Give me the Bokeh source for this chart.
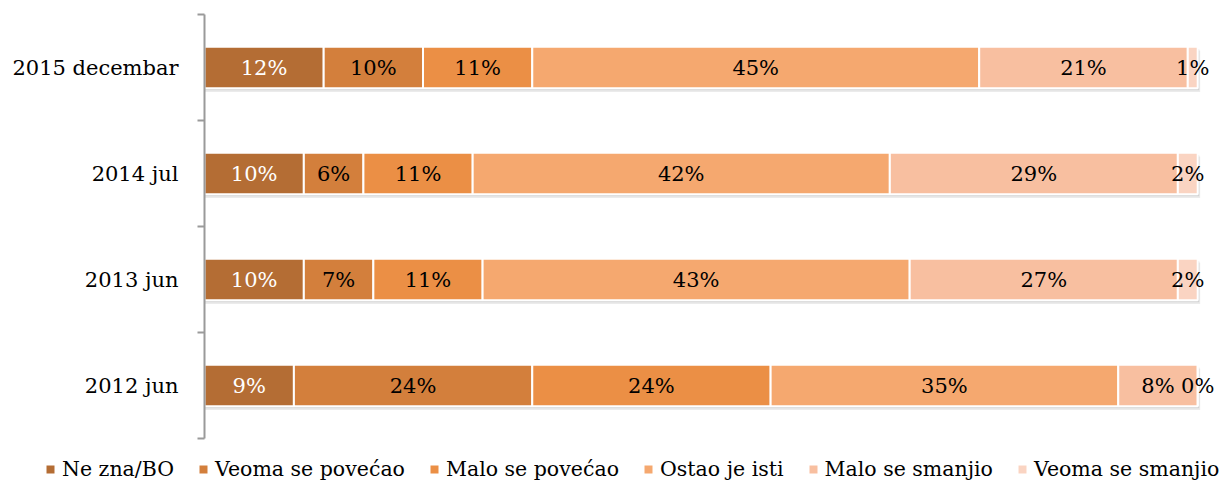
import pandas as pd
from bokeh.plotting import figure
from bokeh.layouts import column
from bokeh.models import ColumnDataSource, Range1d, FixedTicker, Legend, LegendItem
from bokeh.core.properties import value
from bokeh.transform import dodge
from bokeh.embed import file_html
from bokeh.resources import INLINE

categories = ["2012 jun", "2013 jun", "2014 jul", "2015 decembar"]
series = ["Ne zna/BO", "Veoma se povećao", "Malo se povećao",
          "Ostao je isti", "Malo se smanjio", "Veoma se smanjio"]
ne_zna = [9, 10, 10, 12]
veoma_povecao = [24, 7, 6, 10]
malo_povecao = [24, 11, 11, 11]
ostao_isti = [35, 43, 42, 45]
malo_smanjio = [8, 27, 29, 21]
veoma_smanjio = [0, 2, 2, 1]

colors = ["#B46D34", "#D37F3C", "#EB8F45", "#F5A86F", "#F8BFA0", "#FAD4C2"]
label_colors = ["white", "black", "black", "black", "black", "black"]
FONT = "DejaVu Serif"

cols = ["s0", "s1", "s2", "s3", "s4", "s5"]
values = [ne_zna, veoma_povecao, malo_povecao, ostao_isti, malo_smanjio, veoma_smanjio]

df = pd.DataFrame({c: v for c, v in zip(cols, values)})
df["cat"] = categories
df["ypos"] = [i + 0.5 for i in range(len(categories))]
df["total"] = df[cols].sum(axis=1)
source = ColumnDataSource(df)

# label table
rows = []
for i, cat in enumerate(categories):
    left = 0
    for j, c in enumerate(cols):
        v = values[j][i]
        rows.append(dict(x=left + v / 2, y=i + 0.5, text=f"{v}%", tcolor=label_colors[j]))
        left += v
lab = ColumnDataSource(pd.DataFrame(rows))

p = figure(width=1227, height=446, output_backend="svg", toolbar_location=None,
           x_range=Range1d(0, 103), y_range=Range1d(0, 4),
           frame_width=1023, frame_height=424,
           min_border_left=204, min_border_right=0, min_border_top=14, min_border_bottom=8)
p.outline_line_color = None
p.grid.visible = False
p.xaxis.visible = False

BAR_H = 0.39
# soft shadow
p.hbar(y=dodge("ypos", -0.035), left=0, right=dodge("total", 0.25), height=BAR_H,
       source=source, fill_color="#000000", fill_alpha=0.08, line_color=None)
p.hbar(y=dodge("ypos", -0.02), left=0, right=dodge("total", 0.15), height=BAR_H,
       source=source, fill_color="#000000", fill_alpha=0.10, line_color=None)

rs = p.hbar_stack(cols, y="ypos", height=BAR_H, color=colors, source=source,
                  line_color="white", line_width=2)

p.text(x="x", y="y", text="text", source=lab, text_color="tcolor",
       text_font=value(FONT), text_font_size=value("21px"),
       text_align="center", text_baseline="middle")

ax = p.yaxis[0]
ax.ticker = FixedTicker(ticks=[i + 0.5 for i in range(len(categories))],
                        minor_ticks=list(range(len(categories) + 1)))
ax.major_label_overrides = {i + 0.5: c for i, c in enumerate(categories)}
ax.major_tick_line_color = None
ax.major_tick_out = 0
ax.major_tick_in = 0
ax.minor_tick_line_color = "#9a9a9a"
ax.minor_tick_line_width = 2
ax.minor_tick_out = 7
ax.minor_tick_in = 0
ax.axis_line_color = "#9a9a9a"
ax.axis_line_width = 2
ax.major_label_standoff = 19
ax.major_label_text_font = FONT
ax.major_label_text_font_size = "21px"
ax.major_label_text_color = "black"

# legend strip (separate figure so nothing is clipped)
lf = figure(width=1227, height=38, output_backend="svg", toolbar_location=None,
            x_range=Range1d(0, 100), y_range=Range1d(100, 101),
            frame_width=1227, frame_height=38,
            min_border_left=0, min_border_right=0, min_border_top=0, min_border_bottom=0)
lf.outline_line_color = None
lf.grid.visible = False
lf.axis.visible = False
lrs = lf.hbar_stack(cols, y="ypos", height=BAR_H, color=colors, source=source,
                    line_color=None)
items = [LegendItem(label=s, renderers=[r]) for s, r in zip(series, lrs)]
legend = Legend(items=items, orientation="horizontal", location=(45, 3),
                padding=0, margin=0, spacing=24, label_standoff=7,
                glyph_width=10, glyph_height=10, label_height=20,
                label_text_font=FONT, label_text_font_size="20.5px",
                label_text_color="black",
                border_line_color=None, background_fill_alpha=0)
lf.add_layout(legend, "center")

open("out.html", "w").write(file_html(column(p, lf, spacing=0), INLINE))
